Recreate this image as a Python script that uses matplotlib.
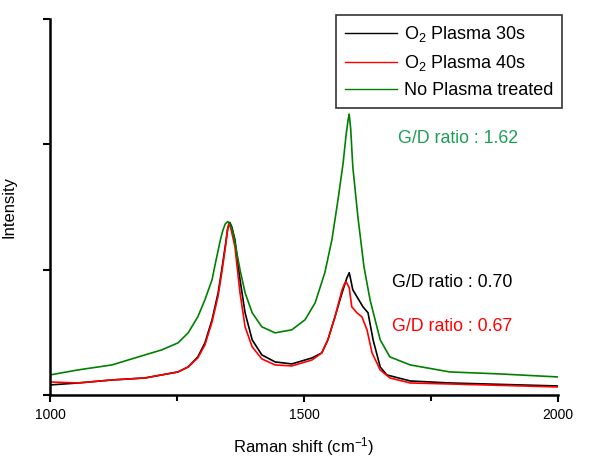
import matplotlib
matplotlib.use("Agg")
import matplotlib.pyplot as plt

plt.rcParams['font.family'] = ['Liberation Sans', 'DejaVu Sans']
plt.rcParams['mathtext.fontset'] = 'custom'
plt.rcParams['mathtext.rm'] = 'Liberation Sans'
plt.rcParams['mathtext.default'] = 'regular'

# raman spectra (x: cm^-1, y: counts)
x_green = [1000, 1055, 1122, 1187, 1220, 1252, 1272, 1291, 1305, 1319, 1325, 1335, 1340, 1345,
           1350, 1355, 1360, 1364, 1374, 1384, 1398, 1417, 1443, 1476, 1502, 1522, 1541, 1555,
           1567, 1577, 1583, 1587, 1589, 1592, 1596, 1606, 1618, 1630, 1650, 1669, 1709, 1787,
           1886, 2000]
y_green = [160, 200, 240, 320, 360, 416, 496, 624, 760, 920, 1040, 1230, 1310, 1365,
           1384, 1360, 1300, 1216, 1000, 816, 656, 544, 496, 520, 600, 736, 976, 1240,
           1560, 1850, 2080, 2200, 2240, 2120, 1824, 1424, 1024, 760, 440, 304, 240, 184,
           168, 144]

x_black = [1000, 1055, 1122, 1187, 1252, 1272, 1291, 1305, 1319, 1331, 1339, 1346, 1350,
           1354, 1358, 1364, 1374, 1384, 1398, 1417, 1443, 1476, 1516, 1535, 1547, 1561,
           1575, 1584, 1589, 1592, 1596, 1616, 1626, 1636, 1650, 1663, 1709, 1787, 2000]
y_black = [80, 96, 120, 136, 184, 224, 304, 416, 600, 816, 1024, 1216, 1330,
           1376, 1340, 1240, 920, 656, 440, 320, 264, 248, 296, 336, 440, 624,
           816, 930, 976, 920, 840, 704, 656, 440, 224, 160, 112, 96, 72]

x_red = [1000, 1055, 1122, 1187, 1252, 1272, 1291, 1305, 1319, 1331, 1339, 1346, 1349,
         1352, 1356, 1364, 1374, 1384, 1398, 1417, 1443, 1476, 1516, 1535, 1547, 1561,
         1575, 1580, 1583, 1586, 1589, 1594, 1604, 1614, 1624, 1634, 1650, 1669, 1709,
         1787, 2000]
y_red = [104, 96, 120, 136, 184, 224, 296, 400, 584, 792, 1000, 1200, 1310,
         1368, 1330, 1184, 816, 544, 384, 288, 240, 232, 280, 336, 440, 624,
         840, 890, 904, 880, 856, 704, 656, 624, 520, 336, 200, 136, 96,
         88, 64]

labels = ['O$_2$ Plasma 30s', 'O$_2$ Plasma 40s', 'No Plasma treated']
ratios = ['G/D ratio : 0.70', 'G/D ratio : 0.67', 'G/D ratio : 1.62']

fig = plt.figure(figsize=(5.89, 4.61), dpi=100)
ax = fig.add_axes([50/589, 1-395/461, 508/589, 376/461])

ax.plot(x_black, y_black, color='black', lw=1.2, label=labels[0])
ax.plot(x_red, y_red, color='#ff0000', lw=1.2, label=labels[1])
ax.plot(x_green, y_green, color='#008000', lw=1.2, label=labels[2])

ax.set_xlim(1000, 2000)
ax.set_ylim(0, 3000)
ax.set_xticks([1000, 1500, 2000])
ax.set_xticks([1250, 1750], minor=True)
ax.set_yticks([0, 1000, 2000, 3000])
ax.set_yticklabels([])
ax.tick_params(direction='out', length=5, width=1.5, labelsize=10, pad=4)
ax.tick_params(which='minor', direction='out', length=4, width=1.5)
for s in ['top', 'right']:
    ax.spines[s].set_visible(False)
for s in ['left', 'bottom']:
    ax.spines[s].set_linewidth(1.8)

ax.set_xlabel('Raman shift (cm$^{-1}$)', fontsize=12, labelpad=10)
ax.set_ylabel('Intensity', fontsize=12, labelpad=15)

ax.text(1685, 2045, ratios[2], color='#1e9e55', fontsize=12.8, va='center')
ax.text(1673, 896, ratios[0], color='black', fontsize=12.8, va='center')
ax.text(1673, 544, ratios[1], color='#ff0000', fontsize=12.8, va='center')

leg = ax.legend(loc='upper right', bbox_to_anchor=(562/589, 1-15/461),
                bbox_transform=fig.transFigure, borderaxespad=0, fontsize=13,
                frameon=True, fancybox=False, edgecolor='black', handlelength=2.9,
                handletextpad=0.35, labelspacing=0.5, borderpad=0.5)
leg.get_frame().set_linewidth(1.2)
for h in leg.get_lines():
    h.set_linewidth(1.0)

fig.savefig('out.png', dpi=100)
